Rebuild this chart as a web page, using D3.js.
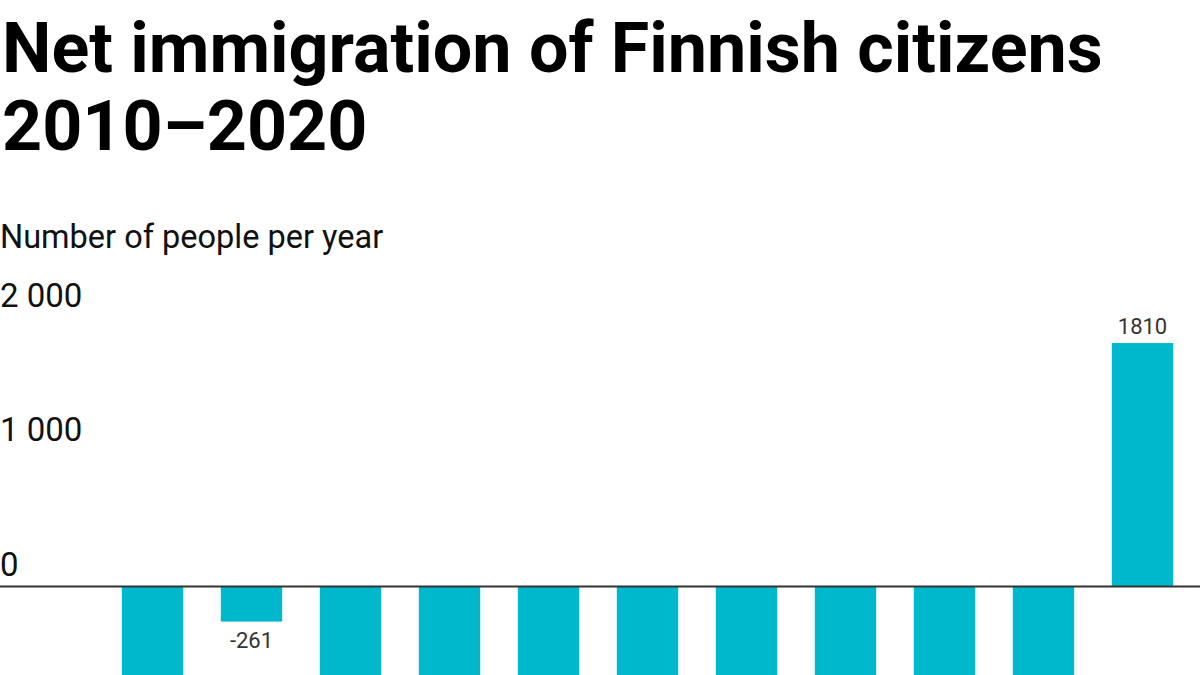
<!DOCTYPE html>
<html lang="en">

<head>
  <meta charset="UTF-8">
  <title>Net immigration of Finnish citizens</title>
  <style>
    html, body {
      margin: 0;
      padding: 0;
      background: #fff;
      overflow: hidden;
    }

    * {
      font-family: Roboto, 'Noto Sans', Arial, sans-serif;
    }

    .title {
      font-size: 70px;
      font-weight: 700;
      fill: #000;
    }

    .subtitle {
      font-size: 32.5px;
      fill: #111;
    }

    .tick-label {
      font-size: 33px;
      fill: #111;
    }

    .value-label {
      font-size: 22px;
      fill: #333;
    }
  </style>
</head>

<body>
  <div id="chart"></div>
</body>
<script src="https://d3js.org/d3.v7.min.js"></script>
<script>
    // data
    var years = ["2010", "2011", "2012", "2013", "2014", "2015", "2016", "2017", "2018", "2019", "2020"];
    // only -261 and 1810 are labelled; the rest run off the bottom of the picture (estimated)
    var netImmigration = [-1200, -261, -1100, -1600, -2000, -2600, -2400, -2100, -1900, -1300, 1810];
    var yTicks = [0, 1000, 2000];

    var width = 1200,
        height = 675;

    var svg = d3.select("#chart")
        .append("svg")
        .attr("width", width)
        .attr("height", height);

    // title
    svg.append("text")
        .attr("class", "title")
        .attr("x", 2)
        .attr("y", 72)
        .text("Net immigration of Finnish citizens");
    svg.append("text")
        .attr("class", "title")
        .attr("x", 2)
        .attr("y", 150)
        .text("2010\u20132020");

    svg.append("text")
        .attr("class", "subtitle")
        .attr("x", 0)
        .attr("y", 248)
        .text("Number of people per year");

    // scales
    var x = d3.scaleBand()
        .domain(years)
        .range([103, 1192])
        .paddingInner(0.38)
        .paddingOuter(0.19);

    var pxPer1000 = 134.5;
    var zeroY = 586.5;
    var y = d3.scaleLinear()
        .domain([-700, 2000])
        .range([zeroY + 0.7 * pxPer1000, zeroY - 2 * pxPer1000]);

    var fmt = d3.formatLocale({decimal: ",", thousands: "\u00a0", grouping: [3], currency: ["", " €"]}).format(",d");

    // y tick labels sit above their (invisible) gridlines
    svg.append("g")
        .selectAll("text")
        .data(yTicks)
        .join("text")
        .attr("class", "tick-label")
        .attr("x", 0)
        .attr("y", d => y(d) - 11)
        .text(d => fmt(d));

    // bars
    var data = years.map((yr, i) => ({year: yr, value: netImmigration[i]}));

    svg.append("g")
        .selectAll("rect")
        .data(data)
        .join("rect")
        .attr("x", d => x(d.year))
        .attr("width", x.bandwidth())
        .attr("y", d => Math.min(y(d.value), y(0)))
        .attr("height", d => Math.abs(y(d.value) - y(0)))
        .attr("fill", "#00b8cc");

    // value labels (the ones below the bottom edge are not drawn)
    var labelY = d => d.value >= 0 ? y(d.value) - 9 : y(d.value) + 26;
    svg.append("g")
        .selectAll("text")
        .data(data.filter(d => labelY(d) < height))
        .join("text")
        .attr("class", "value-label")
        .attr("text-anchor", "middle")
        .attr("x", d => x(d.year) + x.bandwidth() / 2)
        .attr("y", labelY)
        .text(d => d.value);

    // zero line
    svg.append("line")
        .attr("x1", 0)
        .attr("x2", width)
        .attr("y1", y(0))
        .attr("y2", y(0))
        .attr("stroke", "#333")
        .attr("stroke-width", 2);
</script>

</html>
